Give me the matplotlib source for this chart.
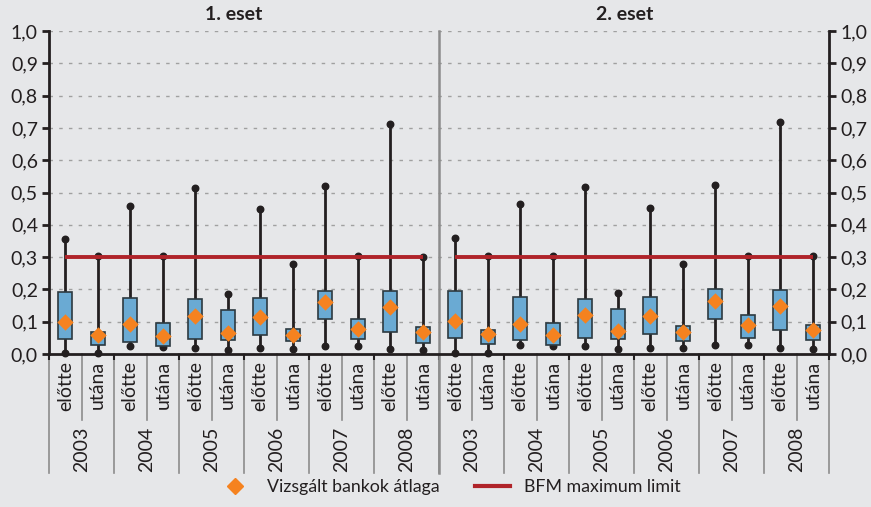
import matplotlib
matplotlib.use('Agg')
import matplotlib.pyplot as plt
from matplotlib.lines import Line2D
import numpy as np

plt.rcParams['font.family'] = ['Lato', 'DejaVu Sans']

# data, 12 groups per case (year x before/after)
years = ['2003', '2004', '2005', '2006', '2007', '2008']
phases = ['előtte', 'utána']
cases = ['1. eset', '2. eset']

# case 1
min1 = [0.002, 0.002, 0.025, 0.021, 0.020, 0.012, 0.020, 0.015, 0.024, 0.024, 0.015, 0.011]
q1_1 = [0.046, 0.028, 0.038, 0.025, 0.046, 0.042, 0.058, 0.039, 0.107, 0.046, 0.069, 0.035]
q3_1 = [0.193, 0.069, 0.174, 0.097, 0.169, 0.135, 0.174, 0.077, 0.196, 0.108, 0.196, 0.083]
max1 = [0.355, 0.304, 0.459, 0.303, 0.513, 0.186, 0.448, 0.278, 0.521, 0.304, 0.712, 0.301]
mean1 = [0.098, 0.060, 0.092, 0.057, 0.119, 0.065, 0.114, 0.060, 0.160, 0.078, 0.146, 0.067]

# case 2
min2 = [0.004, 0.004, 0.029, 0.026, 0.024, 0.015, 0.020, 0.020, 0.028, 0.028, 0.020, 0.015]
q1_2 = [0.050, 0.032, 0.043, 0.028, 0.050, 0.046, 0.063, 0.039, 0.108, 0.050, 0.073, 0.042]
q3_2 = [0.196, 0.073, 0.178, 0.097, 0.170, 0.139, 0.178, 0.086, 0.201, 0.120, 0.197, 0.090]
max2 = [0.359, 0.302, 0.463, 0.302, 0.517, 0.190, 0.452, 0.279, 0.524, 0.302, 0.717, 0.302]
mean2 = [0.102, 0.063, 0.094, 0.060, 0.121, 0.070, 0.118, 0.067, 0.163, 0.090, 0.148, 0.074]

bfm_limit = 0.3

BG = '#e6e7e9'
DARK = '#231f20'
BOX = '#6aaad3'
ORANGE = '#f5821f'
RED = '#b0242a'
SEP = '#8c8c8c'

fig = plt.figure(figsize=(8.71, 5.07), dpi=100, facecolor=BG)
ax = fig.add_axes([49 / 871, 1 - 354 / 507, 780 / 871, 323 / 507], facecolor=BG)

n = len(years) * len(phases)
for k, (mn, lo, hi, mx, mean) in enumerate([(min1, q1_1, q3_1, max1, mean1),
                                            (min2, q1_2, q3_2, max2, mean2)]):
    x = np.arange(1, n + 1) + k * n
    ax.vlines(x, mn, mx, color=DARK, lw=2, zorder=3)
    ax.scatter(x, mn, s=22, color=DARK, zorder=4, clip_on=False)
    ax.scatter(x, mx, s=22, color=DARK, zorder=4)
    ax.bar(x, np.array(hi) - np.array(lo), bottom=lo, width=0.42,
           color=BOX, edgecolor='#2d3a40', lw=1.2, zorder=5)
    ax.scatter(x, mean, marker='D', s=70, color=ORANGE, zorder=6, lw=0)
    ax.plot([x[0], x[-1]], [bfm_limit, bfm_limit], color=RED, lw=2.8, zorder=4,
            solid_capstyle='butt')

ax.set_xlim(0.5, 2 * n + 0.5)
ax.set_ylim(0, 1.0)
yt = np.arange(0, 1.01, 0.1)
ax.set_yticks(yt)
ax.set_yticklabels([('%.1f' % v).replace('.', ',') for v in yt])
for v in yt[1:]:
    ax.axhline(v, color='#a0a0a0', lw=1, ls=(0, (2.5, 4.5)), zorder=1)

ax.tick_params(axis='y', which='both', direction='out', length=5, width=2,
               labelsize=14, colors=DARK, left=True, right=True,
               labelleft=True, labelright=True, pad=3)
ax.spines['top'].set_visible(False)
for s in ['left', 'right', 'bottom']:
    ax.spines[s].set_linewidth(2)
    ax.spines[s].set_color(DARK)

# year boundary ticks on the x axis
bounds = np.arange(0.5, 2 * n + 1, 2)
ax.set_xticks(bounds)
ax.set_xticklabels([])
ax.tick_params(axis='x', direction='out', length=4, width=1.5, colors=DARK)

# category labels below the axis
tr = ax.get_xaxis_transform()
for i in range(2 * n):
    ax.text(i + 1, -0.022, phases[i % 2], rotation=90, ha='center', va='top',
            fontsize=14, color=DARK, transform=tr)
for j in range(2 * len(years)):
    ax.text(2 * j + 1.5, -0.225, years[j % len(years)], rotation=90,
            ha='center', va='top', fontsize=14, color=DARK, transform=tr)

# separators under the axis
for i in range(2 * len(years)):
    ax.plot([2 * i + 1.5] * 2, [0, -0.204], color=SEP, lw=1.2, transform=tr,
            clip_on=False)
for b in bounds:
    ax.plot([b] * 2, [0, -0.368], color=SEP, lw=1.2, transform=tr,
            clip_on=False, zorder=0)
ax.plot([n + 0.5] * 2, [1.0, -0.368], color=SEP, lw=1.8, transform=tr,
        clip_on=False, zorder=2)

# panel titles
fig.text(234 / 871, 1 - 14 / 507, cases[0], ha='center', va='center',
         fontsize=14, fontweight='bold', color=DARK)
fig.text(625 / 871, 1 - 14 / 507, cases[1], ha='center', va='center',
         fontsize=14, fontweight='bold', color=DARK)

handles = [Line2D([], [], marker='D', color=ORANGE, ls='none', markersize=8.5),
           Line2D([], [], color=RED, lw=3)]
fig.legend(handles, ['Vizsgált bankok átlaga', 'BFM maximum limit'],
           loc='center', bbox_to_anchor=(449 / 871, 1 - 487 / 507), ncol=2,
           frameon=False, fontsize=12.8, columnspacing=2.0, handlelength=2.0,
           handletextpad=0.8, labelcolor=DARK)

plt.savefig('out.png', dpi=100, facecolor=BG)
